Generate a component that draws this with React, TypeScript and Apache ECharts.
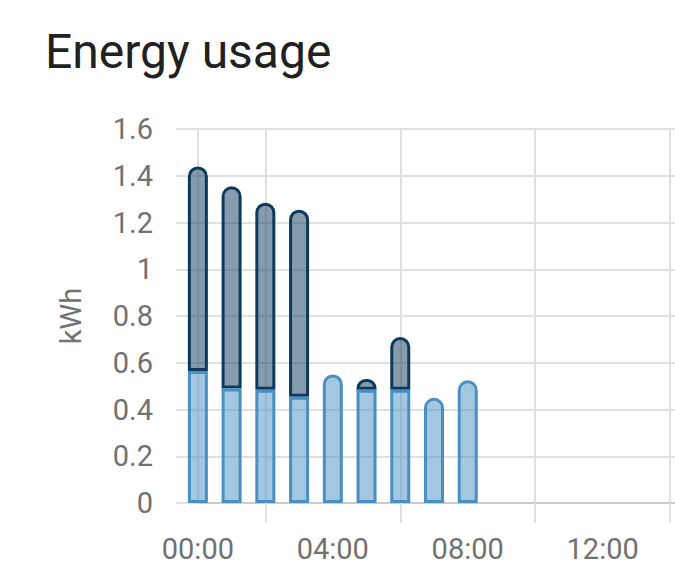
import React, { useEffect, useRef } from "react";
import * as echarts from "echarts";

const title = "Energy usage";
const yAxisName = "kWh";
const hourCategories = ["0", "1", "2", "3", "4", "5", "6", "7", "8", "9", "10", "11", "12", "13", "14"];
const lightValues = [0.565, 0.49, 0.485, 0.455, 0.55, 0.485, 0.485, 0.45, 0.525];
const darkValues: (number | null)[] = [0.875, 0.865, 0.8, 0.8, null, 0.045, 0.225, null, null];
const xLabelValues = [0, 4, 8, 12];
const xGridValues = [2, 6, 10, 14];

const pad = (n: number) => (n < 10 ? "0" + n : "" + n);

export default function App() {
  const ref = useRef<HTMLDivElement>(null);
  useEffect(() => {
    if (!ref.current) return;
    const chart = echarts.init(ref.current, undefined, { renderer: "svg" });
    const font = "Roboto";
    const grid = "#e0e0e0";
    const labelColor = "#717171";
    chart.setOption({
      animation: false,
      title: {
        text: title,
        left: 40,
        top: 22,
        textStyle: { fontFamily: font, fontSize: 48, fontWeight: "normal", color: "#212121" },
      },
      grid: { left: 181, top: 129, bottom: 83, right: 13, containLabel: false },
      xAxis: [
        {
          type: "category",
          data: hourCategories,
          position: "bottom",
          show: false,
        },
        {
          type: "value",
          position: "bottom",
          min: -0.5,
          max: 14.5,
          axisLine: { show: true, lineStyle: { color: "#cccccc", width: 2 } },
          axisTick: { show: true, customValues: xGridValues, length: 20, lineStyle: { color: grid, width: 2 } },
          splitLine: { show: true, lineStyle: { color: grid, width: 2 } },
          axisLabel: {
            customValues: xLabelValues,
            formatter: (v: number) => pad(v) + ":00",
            fontFamily: font,
            fontSize: 29,
            color: labelColor,
            margin: 31,
          },
        },
      ],
      yAxis: {
        type: "value",
        min: 0,
        max: 1.6,
        interval: 0.2,
        name: yAxisName,
        nameLocation: "middle",
        nameGap: 96,
        nameTextStyle: { fontFamily: font, fontSize: 29, color: labelColor },
        axisLine: { show: true, lineStyle: { color: grid, width: 2 } },
        axisTick: { show: true, length: 22, lineStyle: { color: grid, width: 2 } },
        splitLine: { show: true, lineStyle: { color: grid, width: 2 } },
        axisLabel: { fontFamily: font, fontSize: 29, color: labelColor, margin: 28 },
      },
      series: [
        {
          type: "bar",
          xAxisIndex: 0,
          stack: "usage",
          barWidth: 20,
          z: 3,
          data: lightValues.map((v, i) => ({
            value: v,
            itemStyle: { borderRadius: darkValues[i] == null ? [10, 10, 0, 0] : 0 },
          })),
          itemStyle: {
            color: "rgba(72,143,194,0.5)",
            borderColor: "#488fc2",
            borderWidth: 3,
          },
        },
        {
          type: "bar",
          xAxisIndex: 0,
          stack: "usage",
          barWidth: 20,
          z: 2,
          data: darkValues.map((v) => (v == null ? "-" : v)),
          itemStyle: {
            color: "rgba(13,58,92,0.5)",
            borderColor: "#0d3a5c",
            borderWidth: 3,
            borderRadius: [10, 10, 0, 0],
          },
        },
      ],
    });
    return () => chart.dispose();
  }, []);
  return (
    <div style={{ position: "fixed", left: 0, top: 0, width: 675, height: 586, overflow: "hidden", background: "#fff" }}>
      <div ref={ref} style={{ width: 700, height: 586 }} />
    </div>
  );
}
